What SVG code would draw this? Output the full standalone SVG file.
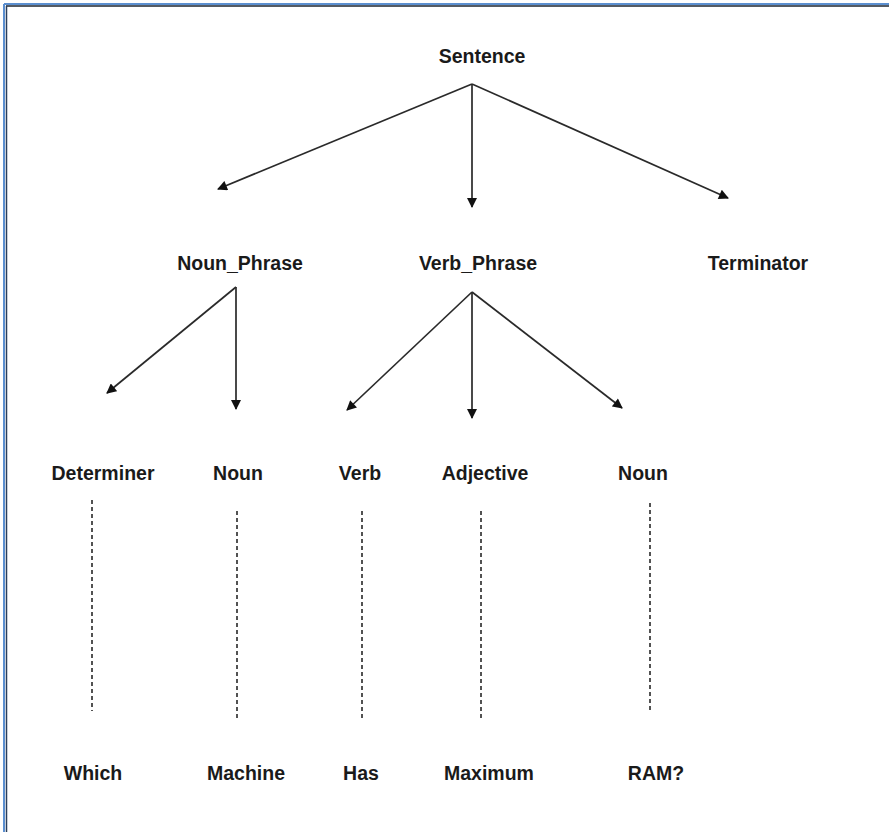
<svg xmlns="http://www.w3.org/2000/svg" width="889" height="832" viewBox="0 0 889 832">
  <style>
    .lbl { font-family: "Liberation Sans", Arial, sans-serif; font-weight: bold; font-size: 19.5px; fill: #1a1a1a; text-anchor: middle; }
    .edge { stroke: #2a2a2a; stroke-width: 1.7; fill: none; marker-end: url(#head); }
    .link { stroke: #1a1a1a; stroke-width: 1.5; stroke-dasharray: 4 3; fill: none; }
  </style>
  <defs>
    <marker id="head" viewBox="0 0 10 10" refX="9" refY="5" markerWidth="11" markerHeight="10" markerUnits="userSpaceOnUse" orient="auto">
      <path d="M0,0 L10,5 L0,10 Z" fill="#111"/>
    </marker>
  </defs>

  <rect x="0" y="0" width="889" height="832" fill="#ffffff"/>
  <!-- frame: top and left edges only -->
  <g id="frame">
    <line x1="4" y1="4" x2="889" y2="4" stroke="#5b8fd0" stroke-width="2"/>
    <line x1="6" y1="6" x2="889" y2="6" stroke="#1b2430" stroke-width="1.5"/>
    <line x1="4" y1="4" x2="4" y2="832" stroke="#5b8fd0" stroke-width="2"/>
    <line x1="6.5" y1="6" x2="6.5" y2="832" stroke="#2a3f5c" stroke-width="1.5"/>
  </g>

  <g id="connectors">
    <line class="edge" x1="472" y1="84" x2="218" y2="189"/>
    <line class="edge" x1="472" y1="84" x2="472" y2="207"/>
    <line class="edge" x1="472" y1="84" x2="728" y2="198"/>
    <line class="edge" x1="236" y1="287" x2="107" y2="393"/>
    <line class="edge" x1="236" y1="287" x2="236" y2="409"/>
    <line class="edge" x1="472" y1="292" x2="347" y2="410"/>
    <line class="edge" x1="472" y1="292" x2="472" y2="418"/>
    <line class="edge" x1="472" y1="292" x2="622" y2="408"/>
    <line class="link" x1="92" y1="500" x2="92" y2="711"/>
    <line class="link" x1="237" y1="511" x2="237" y2="720"/>
    <line class="link" x1="362" y1="511" x2="362" y2="720"/>
    <line class="link" x1="481" y1="511" x2="481" y2="720"/>
    <line class="link" x1="650" y1="503" x2="650" y2="713"/>
  </g>

  <g id="sentence"><text class="lbl" x="482" y="63">Sentence</text></g>
  <g id="noun-phrase"><text class="lbl" x="240" y="270">Noun_Phrase</text></g>
  <g id="verb-phrase"><text class="lbl" x="478" y="270">Verb_Phrase</text></g>
  <g id="terminator"><text class="lbl" x="758" y="270">Terminator</text></g>

  <g id="determiner"><text class="lbl" x="103" y="480">Determiner</text></g>
  <g id="noun-1"><text class="lbl" x="238" y="480">Noun</text></g>
  <g id="verb"><text class="lbl" x="360" y="480">Verb</text></g>
  <g id="adjective"><text class="lbl" x="485" y="480">Adjective</text></g>
  <g id="noun-2"><text class="lbl" x="643" y="480">Noun</text></g>

  <g id="word-which"><text class="lbl" x="93" y="780">Which</text></g>
  <g id="word-machine"><text class="lbl" x="246" y="780">Machine</text></g>
  <g id="word-has"><text class="lbl" x="361" y="780">Has</text></g>
  <g id="word-maximum"><text class="lbl" x="489" y="780">Maximum</text></g>
  <g id="word-ram"><text class="lbl" x="656" y="780">RAM?</text></g>
</svg>
